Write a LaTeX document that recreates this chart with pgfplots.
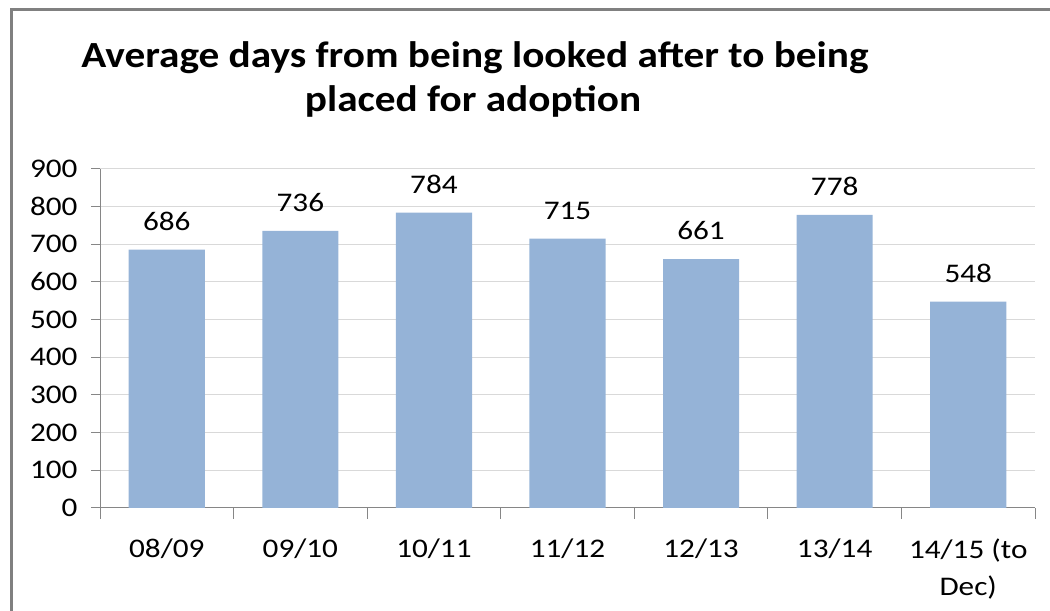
\documentclass[border=0pt]{standalone}
\usepackage{fontspec}
\setmainfont{Carlito}
\newfontfamily\lblfont[FakeStretch=1.16]{Carlito}
\newfontfamily\ttlfont[FakeStretch=1.12]{Carlito}
\usepackage{pgfplots}
\pgfplotsset{compat=1.18}
\definecolor{barblue}{HTML}{95B3D7}
\definecolor{gridgray}{HTML}{D9D9D9}
\definecolor{axgray}{HTML}{868686}
\definecolor{bordergray}{HTML}{808080}
\begin{document}
\begin{tikzpicture}[x=1bp,y=1bp]
\useasboundingbox (0,0) rectangle (1050,611);
\draw[bordergray, line width=3bp] (11,0) -- (11,601.5) -- (1050,601.5);
\node[anchor=base, inner sep=0, font=\ttlfont\fontsize{37}{40}\selectfont\bfseries] at (475,543) {Average days from being looked after to being};
\node[anchor=base, inner sep=0, font=\ttlfont\fontsize{37}{40}\selectfont\bfseries] at (473,499) {placed for adoption};
\begin{axis}[
  at={(100bp,103bp)}, anchor=south west,
  scale only axis, width=935bp, height=339bp,
  xmin=-0.5, xmax=6.5, ymin=0, ymax=900,
  ytick={0,100,...,900},
  xtick={0,...,6},
  xticklabels={08/09,09/10,10/11,11/12,12/13,13/14,{14/15 (to\\Dec)}},
  minor xtick={-0.5,0.5,...,6.5},
  axis x line*=bottom, axis y line*=left,
  axis line style={axgray, line width=1bp, -},
  tick align=outside,
  major tick length=9bp,
  minor tick length=11bp,
  x tick style={draw=none},
  minor x tick style={draw=axgray, line width=1bp},
  y tick style={axgray, line width=1bp},
  ymajorgrids, grid style={gridgray, line width=1bp},
  tick label style={font=\lblfont\fontsize{27}{37}\selectfont},
  xticklabel style={align=center, yshift=-18bp},
  yticklabel style={xshift=-10bp},
  /pgf/number format/assume math mode=true,
  ybar, bar width=0.57,
  nodes near coords,
  every node near coord/.append style={font=\lblfont\fontsize{27}{32}\selectfont, anchor=south, inner sep=0, yshift=19bp},
]
\addplot[fill=barblue, draw=none] coordinates {(0,686) (1,736) (2,784) (3,715) (4,661) (5,778) (6,548)};
\end{axis}
\end{tikzpicture}
\end{document}
